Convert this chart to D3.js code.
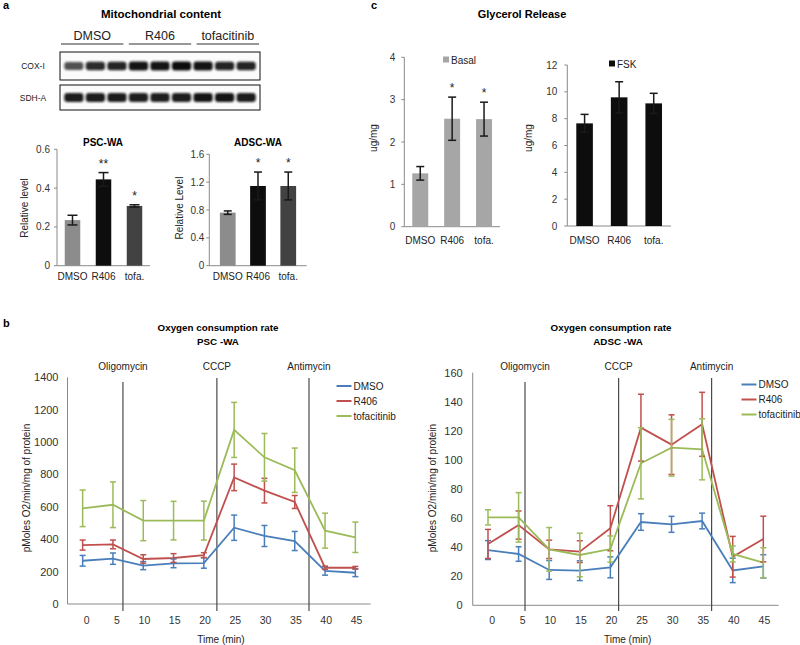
<!DOCTYPE html>
<html>
<head>
<meta charset="utf-8">
<script src="https://cdn.jsdelivr.net/npm/d3@7/dist/d3.min.js"></script>
<style>
  html, body { margin: 0; padding: 0; background: #fff; }
  svg { display: block; }
</style>
</head>
<body>
<svg id="fig" width="800" height="645"></svg>
<script>
// ---------------- DATA ----------------
const blotGroups = ["DMSO", "R406", "tofacitinib"];
const blotRows = ["COX-I", "SDH-A"];
const coxBands = [0.55, 0.8, 0.85, 0.95, 0.95, 1.0, 0.95, 0.85, 0.85];
const sdhBands = [0.9, 0.9, 0.9, 0.88, 0.88, 0.9, 0.95, 0.95, 0.9];

const barCats = ["DMSO", "R406", "tofa."];
const pscValues = [0.235, 0.445, 0.308];
const pscErrors = [0.025, 0.035, 0.006];
const pscSig = ["", "**", "*"];
const pscTicks = [0, 0.2, 0.4, 0.6];

const adscValues = [0.762, 1.145, 1.145];
const adscErrors = [0.025, 0.2, 0.2];
const adscSig = ["", "*", "*"];
const adscTicks = [0, 0.4, 0.8, 1.2, 1.6];

const basalValues = [1.26, 2.55, 2.54];
const basalErrors = [0.16, 0.51, 0.40];
const basalSig = ["", "*", "*"];
const basalTicks = [0, 1, 2, 3, 4];

const fskValues = [7.65, 9.59, 9.14];
const fskErrors = [0.67, 1.16, 0.75];
const fskSig = ["", "", ""];
const fskTicks = [0, 2, 4, 6, 8, 10, 12];

const timePoints = ["0", "5", "10", "15", "20", "25", "30", "35", "40", "45"];
const seriesNames = ["DMSO", "R406", "tofacitinib"];
const injectionNames = ["Oligomycin", "CCCP", "Antimycin"];

const pscDMSO = [267, 280, 237, 251, 253, 471, 420, 389, 204, 193];
const pscDMSOErr = [33, 35, 25, 27, 32, 78, 65, 59, 26, 24];
const pscR406 = [364, 368, 278, 284, 302, 782, 700, 630, 224, 224];
const pscR406Err = [31, 27, 26, 27, 15, 82, 76, 40, 10, 8];
const pscTofa = [591, 613, 515, 515, 515, 1075, 906, 826, 453, 412];
const pscTofaErr = [113, 141, 124, 119, 120, 170, 147, 137, 108, 94];
const pscYTicks = [0, 200, 400, 600, 800, 1000, 1200, 1400];
const pscInjections = [1.33, 4.43, 7.47]; // position in time-point steps

const adscDMSO = [38, 35.3, 24.3, 23.8, 26.1, 57.3, 55.7, 58, 24, 26.8];
const adscDMSOErr = [6.5, 5, 6.5, 6.8, 7.2, 5.7, 5.5, 5.4, 8.4, 8];
const adscR406 = [42.2, 55.2, 38.5, 36.9, 53, 122.2, 110.5, 124.5, 33.4, 45.6];
const adscR406Err = [10, 9.7, 6.3, 7.5, 15.5, 23, 20.5, 22, 14, 15.7];
const adscTofa = [60.5, 60.5, 38.5, 34.6, 38.7, 97.7, 108.4, 107.3, 35.3, 29.3];
const adscTofaErr = [5.2, 17, 15, 15, 9, 24.5, 19.5, 21, 5.5, 10.3];
const adscYTicks = [0, 20, 40, 60, 80, 100, 120, 140, 160];
const adscInjections = [1.21, 4.27, 7.31];

// ---------------- STYLE ----------------
const FONT = "'Liberation Sans', Arial, Helvetica, sans-serif";
const seriesColors = ["#4a7ebb", "#c0504d", "#9bbb59"];
const axisColor = "#8a8a8a";
const textColor = "#222";

const svg = d3.select("#fig").style("font-family", FONT);

function txt(g, x, y, s, opt = {}) {
  return g.append("text").attr("x", x).attr("y", y).text(s)
    .attr("font-size", opt.size || 10)
    .attr("font-weight", opt.bold ? "bold" : "normal")
    .attr("text-anchor", opt.anchor || "middle")
    .attr("fill", opt.color || textColor)
    .attr("transform", opt.rotate ? `rotate(-90,${x},${y})` : null)
    .attr("dominant-baseline", opt.baseline || null);
}

// panel letters
txt(svg, 3, 9, "a", { size: 11, bold: true, anchor: "start", color: "#000" });
txt(svg, 3, 327, "b", { size: 11, bold: true, anchor: "start", color: "#000" });
txt(svg, 371, 9, "c", { size: 11, bold: true, anchor: "start", color: "#000" });

// ---------------- WESTERN BLOT ----------------
(function blot() {
  const g = svg.append("g");
  const defs = svg.append("defs");
  defs.append("filter").attr("id", "blur").attr("x", "-30%").attr("y", "-60%").attr("width", "160%").attr("height", "220%")
    .append("feGaussianBlur").attr("stdDeviation", 1.3);
  txt(g, 161, 18, "Mitochondrial content", { size: 11.5, bold: true, color: "#000" });
  const groupX = d3.scaleBand().domain(blotGroups).range([61, 259]).paddingInner(0.08);
  blotGroups.forEach(gr => {
    const x0 = groupX(gr), w = groupX.bandwidth();
    txt(g, x0 + w / 2, 40, gr, { size: 12.5, color: "#222" });
    g.append("line").attr("x1", x0).attr("x2", x0 + w).attr("y1", 44).attr("y2", 44)
      .attr("stroke", "#333").attr("stroke-width", 1);
  });
  const lanes = d3.range(coxBands.length);
  const laneX = d3.scaleBand().domain(lanes).range([62, 258]).paddingInner(0.2).paddingOuter(0.15);
  const rows = [{ name: blotRows[0], y0: 52, y1: 80, bands: coxBands }, { name: blotRows[1], y0: 85, y1: 110, bands: sdhBands }];
  rows.forEach(r => {
    g.append("rect").attr("x", 60).attr("y", r.y0).attr("width", 200).attr("height", r.y1 - r.y0)
      .attr("fill", "#fbfbfb").attr("stroke", "#111").attr("stroke-width", 1);
    txt(g, 33, (r.y0 + r.y1) / 2 + 3, r.name, { size: 8.5, color: "#222" });
    const cy = (r.y0 + r.y1) / 2;
    g.selectAll(null).data(r.bands).enter().append("rect")
      .attr("x", (d, i) => laneX(i) - 1)
      .attr("width", laneX.bandwidth() + 2)
      .attr("y", d => cy - 3.5 - d * 1.0)
      .attr("height", d => 7 + d * 2)
      .attr("rx", 3)
      .attr("fill", "#111")
      .attr("opacity", d => 0.35 + 0.65 * d)
      .attr("filter", "url(#blur)");
  });
})();

// ---------------- BAR CHARTS ----------------
function barChart(c) {
  const g = svg.append("g");
  const x = d3.scaleBand().domain(c.cats).range([c.x0, c.x1]).paddingInner(c.pi).paddingOuter(c.po);
  const y = d3.scaleLinear().domain([0, c.max]).range([c.yZero, c.yTop]);
  // title
  if (c.title) txt(g, c.titleX, c.titleY, c.title, { size: 10, bold: true, color: "#000" });
  // y axis
  g.append("line").attr("x1", c.x0).attr("x2", c.x0).attr("y1", y(0)).attr("y2", y(c.max))
    .attr("stroke", axisColor).attr("stroke-width", 1);
  c.ticks.forEach(t => {
    g.append("line").attr("x1", c.x0 - 3).attr("x2", c.x0).attr("y1", y(t)).attr("y2", y(t))
      .attr("stroke", axisColor).attr("stroke-width", 1);
    txt(g, c.x0 - c.tickOff, y(t) + 3.5, String(t), { size: 10, anchor: "end", color: "#333" });
  });
  // x axis
  g.append("line").attr("x1", c.x0).attr("x2", c.x1).attr("y1", y(0)).attr("y2", y(0))
    .attr("stroke", axisColor).attr("stroke-width", 1);
  c.cats.forEach(cat => {
    txt(g, x(cat) + x.bandwidth() / 2, c.labelY, cat, { size: 10, color: "#222" });
  });
  // bars
  g.selectAll(null).data(c.values).enter().append("rect")
    .attr("x", (d, i) => x(c.cats[i]))
    .attr("width", x.bandwidth())
    .attr("y", d => y(d))
    .attr("height", d => y(0) - y(d))
    .attr("fill", (d, i) => c.colors[i]);
  // error bars
  c.values.forEach((v, i) => {
    const cx = x(c.cats[i]) + x.bandwidth() / 2;
    const e = c.errors[i];
    const hi = y(v + e), lo = y(v - e);
    const col = c.errColor || "#1a1a1a";
    g.append("line").attr("x1", cx).attr("x2", cx).attr("y1", hi).attr("y2", lo).attr("stroke", col).attr("stroke-width", 1.5);
    [hi, lo].forEach(yy => g.append("line").attr("x1", cx - c.cap).attr("x2", cx + c.cap).attr("y1", yy).attr("y2", yy)
      .attr("stroke", col).attr("stroke-width", 1.5));
    if (c.sig[i]) txt(g, cx, hi - 5, c.sig[i], { size: 12, color: "#222" });
  });
  // y label
  txt(g, c.ylabelX, c.ylabelY, c.ylabel, { size: 10, rotate: true, color: "#222" });
  // legend
  if (c.legend) {
    g.append("rect").attr("x", c.legendX).attr("y", c.legendY - 3.5).attr("width", 6).attr("height", 6).attr("fill", c.colors[0]);
    txt(g, c.legendX + 8, c.legendY + 3.5, c.legend, { size: 10, anchor: "start", color: "#222" });
  }
}

barChart({
  cats: barCats, values: pscValues, errors: pscErrors, sig: pscSig, ticks: pscTicks, max: 0.6,
  x0: 57, x1: 150, pi: 0.5, po: 0.25, yZero: 265.7, yTop: 149.3,
  colors: ["#8c8c8c", "#0d0d0d", "#424242"], title: "PSC-WA", titleX: 103, titleY: 146,
  ylabel: "Relative level", ylabelX: 28, ylabelY: 208, tickOff: 7, labelY: 280, cap: 5
});
barChart({
  cats: barCats, values: adscValues, errors: adscErrors, sig: adscSig, ticks: adscTicks, max: 1.6,
  x0: 209.3, x1: 306.7, pi: 0.48, po: 0.35, yZero: 265.7, yTop: 154.3,
  colors: ["#8c8c8c", "#0d0d0d", "#424242"], title: "ADSC-WA", titleX: 258, titleY: 146,
  ylabel: "Relative Level", ylabelX: 183, ylabelY: 208, tickOff: 5, labelY: 280, cap: 4
});
txt(svg, 522, 18, "Glycerol Release", { size: 11, bold: true, color: "#000" });
barChart({
  cats: barCats, values: basalValues, errors: basalErrors, sig: basalSig, ticks: basalTicks, max: 4,
  x0: 404.3, x1: 500, pi: 0.5, po: 0.25, yZero: 226.7, yTop: 57.3,
  colors: ["#a6a6a6", "#a6a6a6", "#a6a6a6"],
  ylabel: "ug/mg", ylabelX: 377, ylabelY: 138, tickOff: 9, labelY: 244, cap: 4,
  legend: "Basal", legendX: 443, legendY: 60
});
barChart({
  cats: barCats, values: fskValues, errors: fskErrors, sig: fskSig, ticks: fskTicks, max: 12,
  x0: 567.3, x1: 671, pi: 0.52, po: 0.26, yZero: 226, yTop: 65,
  colors: ["#0d0d0d", "#0d0d0d", "#0d0d0d"],
  ylabel: "ug/mg", ylabelX: 532, ylabelY: 138, tickOff: 10, labelY: 244, cap: 4,
  legend: "FSK", legendX: 609, legendY: 64
});

// ---------------- LINE CHARTS ----------------
function lineChart(c) {
  const g = svg.append("g");
  const x = d3.scalePoint().domain(timePoints).range([c.x0, c.x1]).padding(0.5);
  const y = d3.scaleLinear().domain([0, c.max]).range([c.yZero, c.yTop]);
  const step = x.step();
  txt(g, c.titleX, 331, "Oxygen consumption rate", { size: 9.8, bold: true, color: "#000" });
  txt(g, c.subX, 345, c.sub, { size: 9.8, bold: true, color: "#000" });
  // axes
  g.append("line").attr("x1", c.x0).attr("x2", c.x0).attr("y1", y(0)).attr("y2", y(c.max))
    .attr("stroke", axisColor).attr("stroke-width", 1);
  g.append("line").attr("x1", c.x0).attr("x2", c.x1).attr("y1", y(0)).attr("y2", y(0))
    .attr("stroke", axisColor).attr("stroke-width", 1);
  c.ticks.forEach(t => txt(g, c.x0 - c.tickOff, y(t) + 4, String(t), { size: 11, anchor: "end", color: "#333" }));
  timePoints.forEach(tp => txt(g, x(tp) + 7, 624, tp, { size: 10.5, anchor: "end", color: "#333" }));
  txt(g, (c.x0 + c.x1) / 2 + 2, 643, "Time (min)", { size: 10, color: "#222" });
  txt(g, c.ylabelX, 488, "pMoles O2/min/mg of protein", { size: 10, rotate: true, color: "#222" });
  // injection lines
  c.injections.forEach((pos, i) => {
    const xx = x(timePoints[0]) + pos * step;
    g.append("line").attr("x1", xx).attr("x2", xx).attr("y1", i === 0 ? 382 : 378).attr("y2", 611)
      .attr("stroke", "#4a4a4a").attr("stroke-width", 1.2);
    txt(g, xx, 370, injectionNames[i], { size: 10, color: "#222" });
  });
  // series
  const line = d3.line().x((d, i) => x(timePoints[i])).y(d => y(d));
  c.series.forEach((s, k) => {
    g.append("path").datum(s.values).attr("d", line).attr("fill", "none")
      .attr("stroke", seriesColors[k]).attr("stroke-width", 1.8);
  });
  c.series.forEach((s, k) => {
    s.values.forEach((v, i) => {
      const cx = x(timePoints[i]);
      const hi = y(v + s.errors[i]), lo = y(v - s.errors[i]);
      g.append("line").attr("x1", cx).attr("x2", cx).attr("y1", hi).attr("y2", lo)
        .attr("stroke", seriesColors[k]).attr("stroke-width", 1.5);
      [hi, lo].forEach(yy => g.append("line").attr("x1", cx - 3).attr("x2", cx + 3).attr("y1", yy).attr("y2", yy)
        .attr("stroke", seriesColors[k]).attr("stroke-width", 1.5));
    });
  });
  // legend
  seriesNames.forEach((n, k) => {
    const ly = c.legendY + k * 15;
    g.append("line").attr("x1", c.legendX).attr("x2", c.legendX + 15).attr("y1", ly).attr("y2", ly)
      .attr("stroke", seriesColors[k]).attr("stroke-width", 2);
    txt(g, c.legendX + 17, ly + 3.5, n, { size: 10, anchor: "start", color: "#222" });
  });
}

lineChart({
  x0: 67.5, x1: 370.5, yZero: 604, yTop: 377.3, max: 1400, ticks: pscYTicks, tickOff: 9,
  titleX: 218, subX: 218, sub: "PSC -WA", ylabelX: 30, injections: pscInjections,
  legendX: 336.5, legendY: 386,
  series: [
    { values: pscDMSO, errors: pscDMSOErr },
    { values: pscR406, errors: pscR406Err },
    { values: pscTofa, errors: pscTofaErr }
  ]
});
lineChart({
  x0: 472.7, x1: 778.6, yZero: 605.3, yTop: 372.7, max: 160, ticks: adscYTicks, tickOff: 10,
  titleX: 611, subX: 618, sub: "ADSC -WA", ylabelX: 436, injections: adscInjections,
  legendX: 741.5, legendY: 384.5,
  series: [
    { values: adscDMSO, errors: adscDMSOErr },
    { values: adscR406, errors: adscR406Err },
    { values: adscTofa, errors: adscTofaErr }
  ]
});
</script>
</body>
</html>
